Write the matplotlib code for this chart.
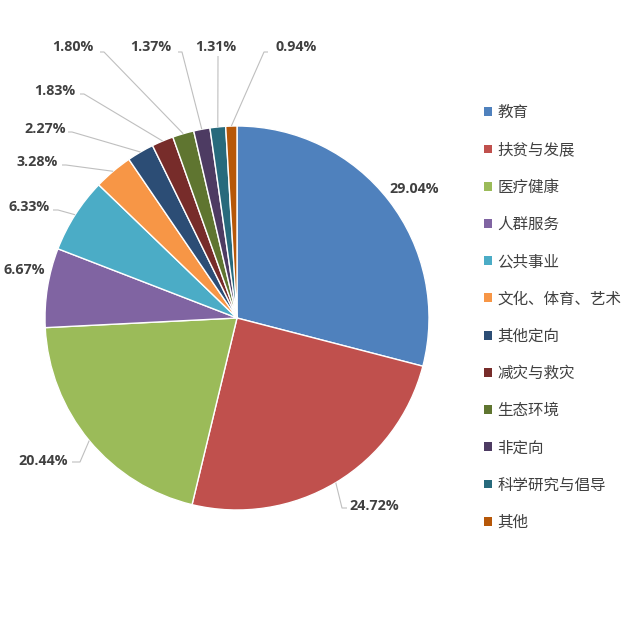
import numpy as np
import matplotlib.pyplot as plt
from matplotlib.patches import Patch

# data
categories = ['教育', '扶贫与发展', '医疗健康', '人群服务', '公共事业', '文化、体育、艺术',
              '其他定向', '减灾与救灾', '生态环境', '非定向', '科学研究与倡导', '其他']
shares = [29.04, 24.72, 20.44, 6.67, 6.33, 3.28, 2.27, 1.83, 1.80, 1.37, 1.31, 0.94]

colors = ['#4F81BD', '#C0504D', '#9BBB59', '#8064A2', '#4BACC6', '#F79646',
          '#2C4D75', '#772C2A', '#5F7530', '#4D3B62', '#276A7C', '#B65708']

# label layout in pixels: text centre and leader points (text side -> elbow), None = no leader
CX, CY, R = 237, 318, 192
label_layout = [
    ((414, 189), None),
    ((374, 506), [(347, 508), (342, 508)]),
    ((43, 461), [(72, 462), (80, 462)]),
    ((24, 270), None),
    ((29, 207), [(53, 210), (58, 210)]),
    ((37, 162), [(62, 165), (66, 165)]),
    ((45, 129), [(68, 132), (72, 132)]),
    ((55, 91), [(80, 94), (84, 94)]),
    ((73, 47), [(100, 52), (104, 52)]),
    ((151, 47), [(178, 52), (182, 52)]),
    ((216, 47), [(218, 56), (218, 58)]),
    ((296, 47), [(268, 52), (264, 52)]),
]


def px(x: float, y: float) -> tuple[float, float]:
    return (x - CX) / R, (CY - y) / R


def main() -> None:
    fig = plt.figure(figsize=(6.4, 6.37), dpi=100)
    ax = fig.add_axes([0, 0, 1, 1])

    wedges, _ = ax.pie(shares, colors=colors, startangle=90, counterclock=False,
                       radius=1.0, wedgeprops=dict(edgecolor='white', linewidth=1.0))

    # pie() resets the limits, so set them afterwards
    ax.set_xlim(-CX / R, (640 - CX) / R)
    ax.set_ylim((CY - 637) / R, CY / R)
    ax.set_aspect('equal')
    ax.axis('off')

    for w, v, (tpos, leader) in zip(wedges, shares, label_layout):
        mid = np.deg2rad((w.theta1 + w.theta2) / 2)
        edge = (np.cos(mid), np.sin(mid))
        if leader is not None:
            pts = [px(*p) for p in leader] + [edge]
            ax.plot([p[0] for p in pts], [p[1] for p in pts], color='#BFBFBF', lw=0.8,
                    solid_capstyle='butt')
        tx, ty = px(*tpos)
        ax.text(tx, ty, f'{v:.2f}%', ha='center', va='center', fontsize=10.3,
                fontweight='bold', family=['Open Sans', 'DejaVu Sans'], color='#404040')

    handles = [Patch(facecolor=c, edgecolor='none') for c in colors]
    fig.legend(handles, categories, loc='center left', bbox_to_anchor=(478 / 640, 1 - 317.5 / 637),
               frameon=False, prop={'family': ['Noto Sans CJK SC', 'DejaVu Sans'], 'size': 11.2},
               labelcolor='#404040', handlelength=0.5, handleheight=0.5, handletextpad=0.35,
               labelspacing=1.3, borderaxespad=0)

    fig.savefig('out.png', dpi=100)


if __name__ == '__main__':
    main()
